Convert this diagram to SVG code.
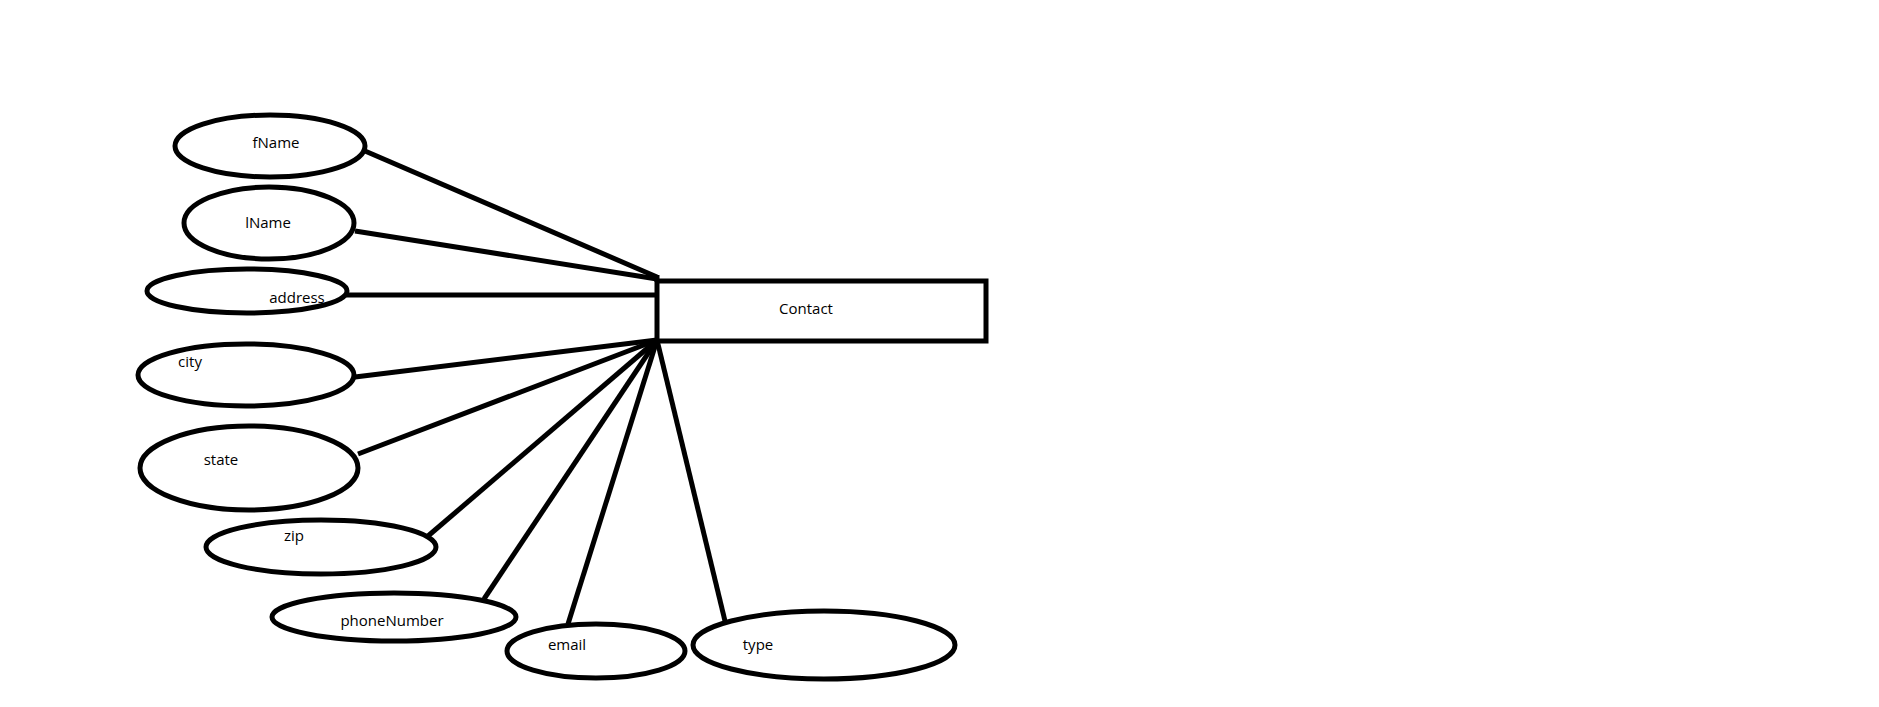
<svg xmlns="http://www.w3.org/2000/svg" width="1879" height="707" viewBox="0 0 1879 707">
<style>
.s{fill:none;stroke:#000;stroke-width:5}
.t{font-family:"Open Sans","Noto Sans",sans-serif;font-size:15px;fill:#000;text-anchor:middle}
</style>
<rect width="1879" height="707" fill="#fff"/>
<g id="connectors" class="s">
<line x1="365" y1="151" x2="657" y2="277"/>
<line x1="355" y1="231" x2="657" y2="279"/>
<line x1="346" y1="295" x2="657" y2="295"/>
<line x1="355" y1="377" x2="657" y2="340"/>
<line x1="358" y1="454" x2="657" y2="340"/>
<line x1="428" y1="536" x2="657" y2="340"/>
<line x1="484" y1="599" x2="657" y2="340"/>
<line x1="568" y1="624" x2="657" y2="340"/>
<line x1="725" y1="621" x2="657" y2="340"/>
<line x1="657" y1="275" x2="657" y2="282"/>
</g>
<g id="contact"><rect class="s" x="657" y="281" width="329" height="60"/><text class="t" x="806" y="314">Contact</text></g>
<g id="fName"><ellipse class="s" cx="270" cy="146" rx="95" ry="31"/><text class="t" x="276" y="148">fName</text></g>
<g id="lName"><ellipse class="s" cx="269" cy="223" rx="85" ry="36"/><text class="t" x="268" y="228">lName</text></g>
<g id="address"><ellipse class="s" cx="247" cy="291" rx="100" ry="22"/><text class="t" x="297" y="303">address</text></g>
<g id="city"><ellipse class="s" cx="246" cy="375" rx="108" ry="31"/><text class="t" x="190" y="367">city</text></g>
<g id="state"><ellipse class="s" cx="249" cy="468" rx="109" ry="42"/><text class="t" x="221" y="465">state</text></g>
<g id="zip"><ellipse class="s" cx="321" cy="547" rx="115" ry="27"/><text class="t" x="294" y="541">zip</text></g>
<g id="phoneNumber"><ellipse class="s" cx="394" cy="617" rx="122" ry="24"/><text class="t" x="392" y="626">phoneNumber</text></g>
<g id="email"><ellipse class="s" cx="596" cy="651" rx="89" ry="27"/><text class="t" x="567" y="650">email</text></g>
<g id="type"><ellipse class="s" cx="824" cy="645" rx="131" ry="34"/><text class="t" x="758" y="650">type</text></g>
</svg>
